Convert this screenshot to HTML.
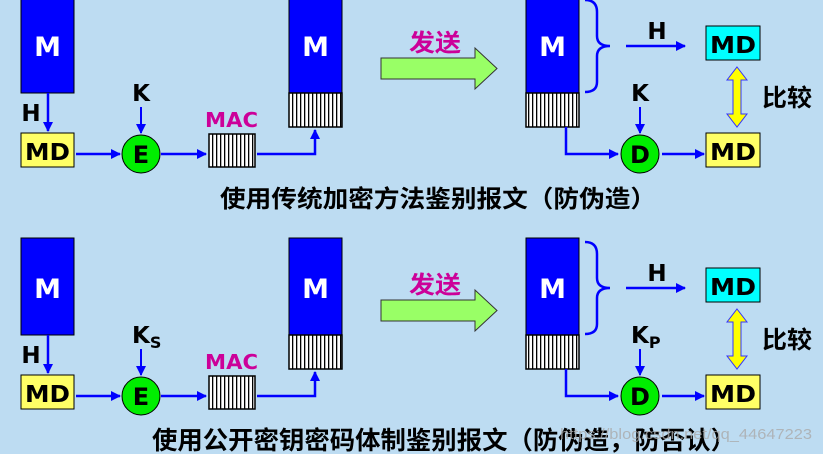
<!DOCTYPE html>
<html><head><meta charset="utf-8"><style>
html,body{margin:0;padding:0;background:#bddcf2;}
svg{display:block;}
text{font-family:"DejaVu Sans","Noto Sans CJK SC",sans-serif;font-weight:bold;}
</style></head><body>
<svg width="823" height="454" viewBox="0 0 823 454" xmlns="http://www.w3.org/2000/svg">
<defs>
<pattern id="hatch" width="4" height="10" patternUnits="userSpaceOnUse">
<rect width="4" height="10" fill="#fff"/><rect x="0" width="1.3" height="10" fill="#000"/>
</pattern>
<marker id="ar" markerWidth="10" markerHeight="10" refX="9" refY="5" orient="auto" markerUnits="userSpaceOnUse">
<path d="M0,0 L10,5 L0,10 z" fill="#0000ff"/>
</marker>
<g id="sec">
<rect x="21" y="-4" width="53" height="97" fill="#0000ff" stroke="#000" stroke-width="1"/>
<text x="47.5" y="56" font-size="27" fill="#fff" text-anchor="middle">M</text>
<line x1="48" y1="93" x2="48" y2="131" stroke="#0000ff" stroke-width="2.5" marker-end="url(#ar)"/>
<rect x="21" y="133" width="53" height="34" fill="#ffff66" stroke="#000" stroke-width="1"/>
<text x="25" y="160" font-size="23" fill="#000" textLength="45" lengthAdjust="spacingAndGlyphs">MD</text>
<line x1="76" y1="154" x2="120" y2="154" stroke="#0000ff" stroke-width="2.5" marker-end="url(#ar)"/>
<circle cx="141" cy="154" r="19" fill="#00ee00" stroke="#000" stroke-width="1"/>
<line x1="141" y1="107" x2="141" y2="133" stroke="#0000ff" stroke-width="2" marker-end="url(#ar)"/>
<line x1="161" y1="154" x2="206" y2="154" stroke="#0000ff" stroke-width="2.5" marker-end="url(#ar)"/>
<rect x="209" y="134" width="46" height="33" fill="url(#hatch)" stroke="#000" stroke-width="1.5"/>
<text x="205" y="127" font-size="20" fill="#cc0099" textLength="53" lengthAdjust="spacingAndGlyphs">MAC</text>
<polyline points="257,154 315,154 315,130" fill="none" stroke="#0000ff" stroke-width="2.5" marker-end="url(#ar)"/>
<rect x="289" y="-4" width="53" height="97" fill="#0000ff" stroke="#000" stroke-width="1"/>
<text x="315.5" y="56" font-size="27" fill="#fff" text-anchor="middle">M</text>
<rect x="289" y="93" width="53" height="34" fill="url(#hatch)" stroke="#000" stroke-width="1.5"/>
<path d="M381,58 L475,58 L475,48 L497,68.5 L475,89 L475,79 L381,79 z" fill="#99ff66" stroke="#333" stroke-width="1"/>
<text x="409" y="51" font-size="24" fill="#cc0099" textLength="52" lengthAdjust="spacingAndGlyphs">发送</text>
<rect x="526" y="-4" width="53" height="97" fill="#0000ff" stroke="#000" stroke-width="1"/>
<text x="552.5" y="56" font-size="27" fill="#fff" text-anchor="middle">M</text>
<rect x="526" y="93" width="53" height="34" fill="url(#hatch)" stroke="#000" stroke-width="1.5"/>
<path d="M585,0 Q597,0 597,12 L597,36 Q597,46 610,46 Q597,46 597,56 L597,82 Q597,92 585,92" fill="none" stroke="#0000ff" stroke-width="2.5"/>
<line x1="626" y1="46" x2="685" y2="46" stroke="#0000ff" stroke-width="2.5" marker-end="url(#ar)"/>
<rect x="706" y="26" width="54" height="34" fill="#00ffff" stroke="#000" stroke-width="1"/>
<text x="710" y="53" font-size="23" fill="#000" textLength="46" lengthAdjust="spacingAndGlyphs">MD</text>
<path d="M737,67 L747,80 L741,80 L741,114 L747,114 L737,127 L727,114 L733,114 L733,80 L727,80 z" fill="#ffff00" stroke="#3333ff" stroke-width="1"/>
<text x="762" y="106" font-size="24" fill="#000" textLength="50" lengthAdjust="spacingAndGlyphs">比较</text>
<line x1="640" y1="107" x2="640" y2="133" stroke="#0000ff" stroke-width="2" marker-end="url(#ar)"/>
<polyline points="566,127 566,154 618,154" fill="none" stroke="#0000ff" stroke-width="2.5" marker-end="url(#ar)"/>
<circle cx="640" cy="154" r="19" fill="#00ee00" stroke="#000" stroke-width="1"/>
<text x="640" y="163" font-size="24" fill="#000" text-anchor="middle">D</text>
<line x1="662" y1="154" x2="704" y2="154" stroke="#0000ff" stroke-width="2.5" marker-end="url(#ar)"/>
<rect x="706" y="133" width="54" height="34" fill="#ffff66" stroke="#000" stroke-width="1"/>
<text x="710" y="160" font-size="23" fill="#000" textLength="46" lengthAdjust="spacingAndGlyphs">MD</text>
<text x="141" y="163" font-size="24" fill="#000" text-anchor="middle">E</text>
<text x="31" y="121" font-size="23" fill="#000" text-anchor="middle">H</text>
<text x="657" y="39" font-size="23" fill="#000" text-anchor="middle">H</text>
</g>
</defs>
<use href="#sec"/>
<text x="141" y="101" font-size="23" text-anchor="middle">K</text>
<text x="640" y="101" font-size="23" text-anchor="middle">K</text>
<text x="220" y="207" font-size="24" textLength="436" lengthAdjust="spacingAndGlyphs">使用传统加密方法鉴别报文（防伪造）</text>
<g transform="translate(0,242)">
<use href="#sec"/>
<text x="132" y="101" font-size="23">K<tspan font-size="16" dy="5">S</tspan></text>
<text x="631" y="101" font-size="23">K<tspan font-size="16" dy="5">P</tspan></text>
</g>
<text x="152" y="449" font-size="25" textLength="584" lengthAdjust="spacingAndGlyphs">使用公开密钥密码体制鉴别报文（防伪造，防否认）</text>
<text x="560" y="439" font-size="15" fill="#aaaaaa" fill-opacity="0.8" textLength="252" lengthAdjust="spacingAndGlyphs" style="font-weight:normal;font-family:'Liberation Sans',sans-serif">https://blog.csdn.net/qq_44647223</text>
</svg>
</body></html>
